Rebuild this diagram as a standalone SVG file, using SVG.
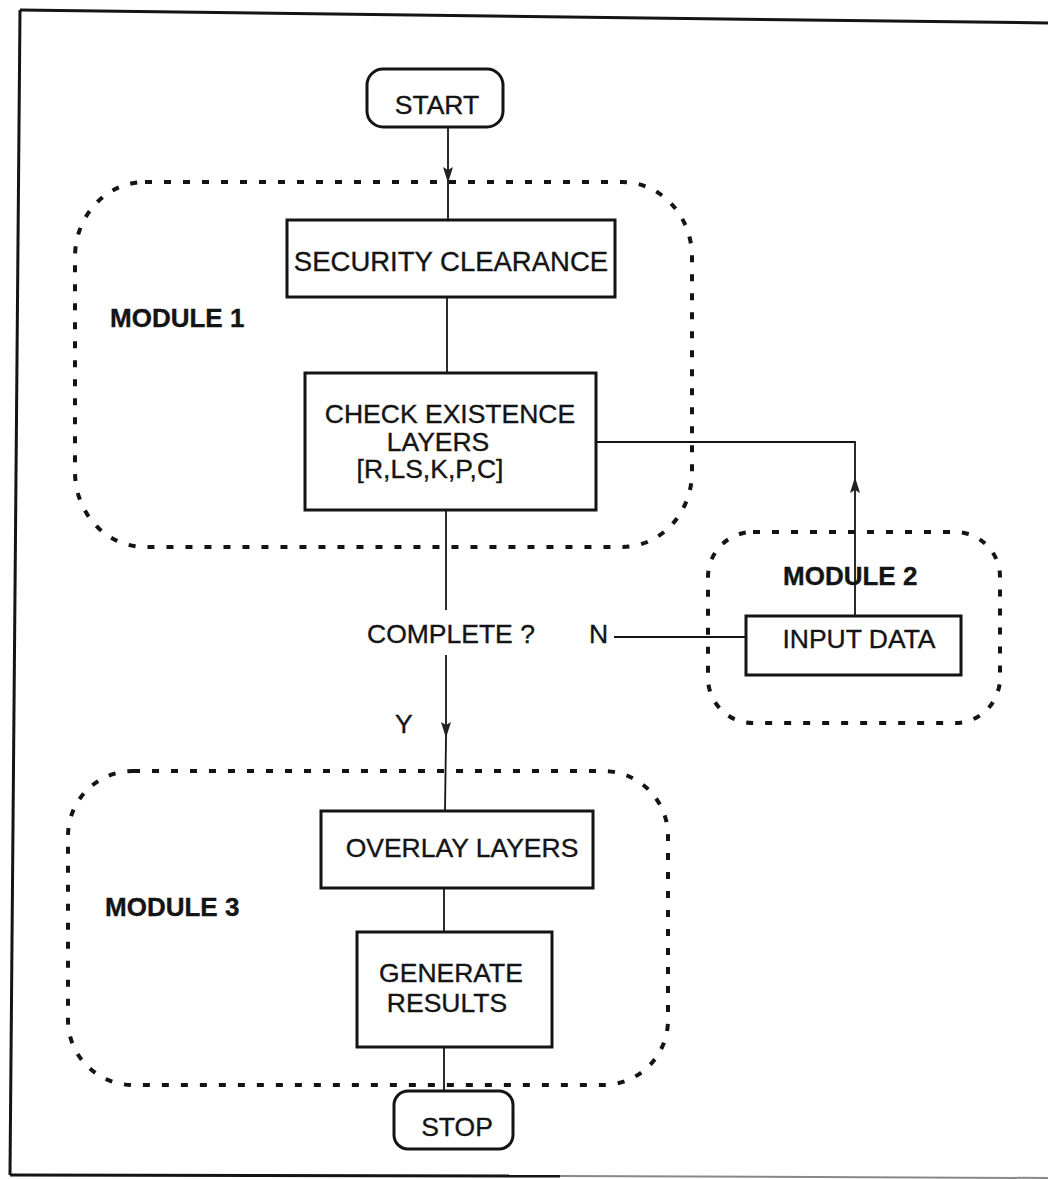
<svg xmlns="http://www.w3.org/2000/svg" width="1048" height="1179" viewBox="0 0 1048 1179">
<style>
text{font-family:"Liberation Sans",Arial,sans-serif;fill:#141414;font-size:26.5px;stroke:#141414;stroke-width:0.35}
.b{font-weight:bold;font-size:26px}
.box{fill:#fff;stroke:#141414;stroke-width:3}
.mod{fill:none;stroke:#141414;stroke-width:4;stroke-dasharray:7 12}
.c{fill:none;stroke:#141414;stroke-width:1.8}
.m{text-anchor:middle}
</style>
<defs>
<marker id="ah" markerUnits="userSpaceOnUse" markerWidth="16" markerHeight="10" refX="16" refY="5" orient="auto" viewBox="0 0 16 10">
<path d="M0,0 L16,5 L0,10 L3,5 Z" fill="#222"/>
</marker>
</defs>
<rect x="0" y="0" width="1048" height="1179" fill="#fff"/>
<g id="frame" fill="none" stroke="#141414" stroke-width="3">
<path d="M20,10 L1048,23"/>
<path d="M20,10 L10,1175"/>
<path d="M10,1175 L560,1176"/>
<path d="M560,1176 L1048,1178" stroke="#888" stroke-width="2"/>
</g>
<g id="module1">
<rect class="mod" x="75" y="182" width="617" height="365" rx="70" ry="75"/>
<text class="b" x="110" y="327">MODULE 1</text>
</g>
<g id="module2">
<rect class="mod" x="708" y="532" width="292" height="191" rx="45" ry="45"/>
<text class="b" x="783" y="585">MODULE 2</text>
</g>
<g id="module3">
<rect class="mod" x="68" y="771" width="600" height="314" rx="65" ry="65"/>
<text class="b" x="105" y="916">MODULE 3</text>
</g>
<g id="connectors">
<line class="c" x1="448" y1="127" x2="448" y2="183" marker-end="url(#ah)"/>
<line class="c" x1="448" y1="183" x2="448" y2="220"/>
<line class="c" x1="447" y1="297" x2="447" y2="373"/>
<line class="c" x1="446" y1="510" x2="446" y2="610"/>
<line class="c" x1="446" y1="655" x2="446" y2="738" marker-end="url(#ah)"/>
<line class="c" x1="446" y1="738" x2="445" y2="811"/>
<line class="c" x1="614" y1="637" x2="746" y2="637"/>
<line class="c" x1="855" y1="616" x2="855" y2="477" marker-end="url(#ah)"/>
<polyline class="c" points="855,477 855,442 596,442"/>
<line class="c" x1="444" y1="888" x2="444" y2="932"/>
<line class="c" x1="444" y1="1047" x2="444" y2="1091"/>
<text x="367" y="643">COMPLETE ?</text>
<text x="589" y="643">N</text>
<text x="395" y="733">Y</text>
</g>
<g id="start">
<rect class="box" x="367" y="69" width="136" height="58" rx="16"/>
<text class="m" x="437" y="114">START</text>
</g>
<g id="security">
<rect class="box" x="287" y="220" width="328" height="77"/>
<text class="m" x="451" y="271" style="font-size:27.5px">SECURITY CLEARANCE</text>
</g>
<g id="check">
<rect class="box" x="305" y="373" width="291" height="137"/>
<text class="m" x="450" y="423">CHECK EXISTENCE</text>
<text class="m" x="438" y="451">LAYERS</text>
<text class="m" x="430" y="478">[R,LS,K,P,C]</text>
</g>
<g id="input">
<rect class="box" x="746" y="616" width="215" height="59"/>
<text class="m" x="859" y="648">INPUT DATA</text>
</g>
<g id="overlay">
<rect class="box" x="321" y="811" width="272" height="77"/>
<text class="m" x="462" y="857">OVERLAY LAYERS</text>
</g>
<g id="generate">
<rect class="box" x="357" y="932" width="195" height="115"/>
<text class="m" x="451" y="982">GENERATE</text>
<text class="m" x="447" y="1012">RESULTS</text>
</g>
<g id="stop">
<rect class="box" x="394" y="1091" width="119" height="58" rx="14"/>
<text class="m" x="457" y="1136">STOP</text>
</g>
</svg>
